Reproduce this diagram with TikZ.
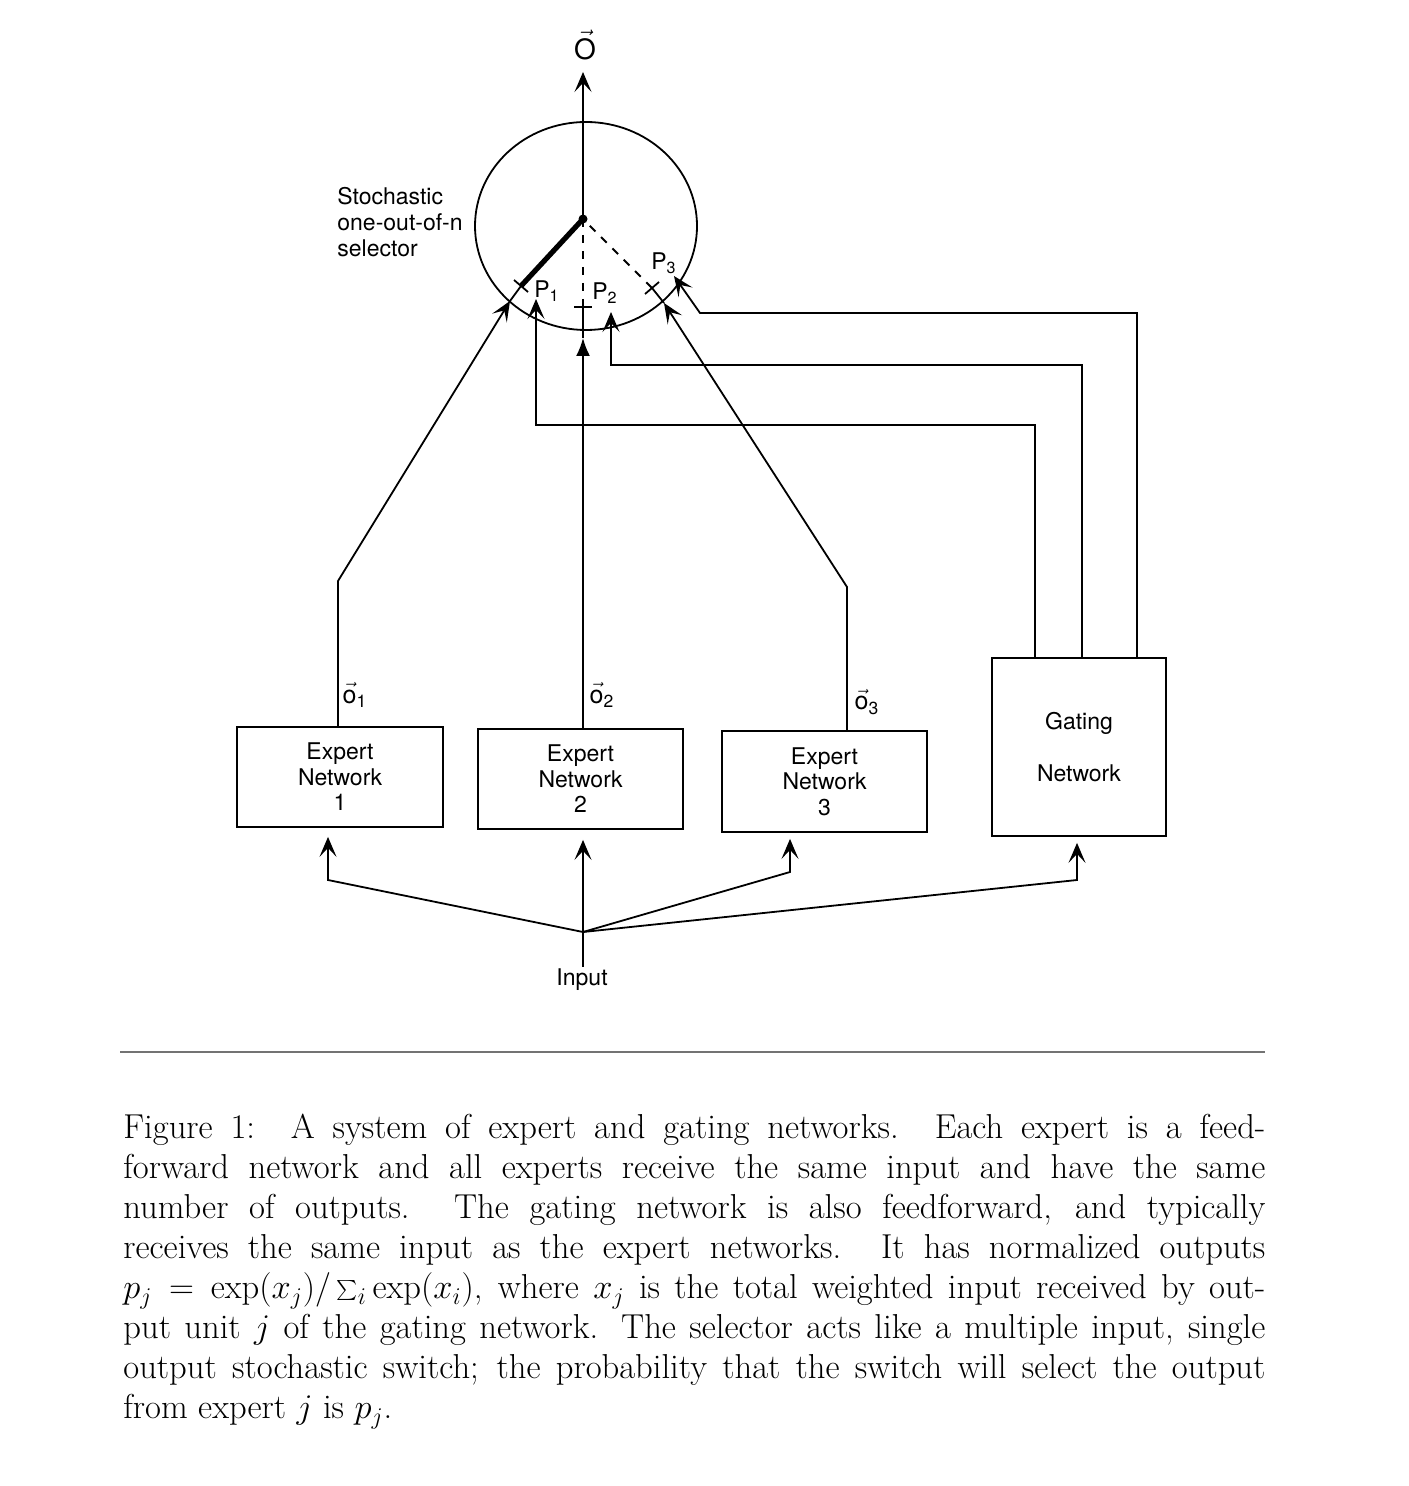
\documentclass[tikz,border=0pt]{standalone}
\usepackage{fontspec}
\setsansfont{TeX Gyre Heros}
\usetikzlibrary{arrows.meta}
\begin{document}
\begin{tikzpicture}[x=0.5pt,y=-0.5pt,
  lbl/.style={font=\sffamily\fontsize{11.5}{13}\selectfont, inner sep=1pt},
  box/.style={draw, line width=0.9pt, inner sep=0pt, align=center, font=\sffamily\fontsize{11.5}{12.8}\selectfont},
  wire/.style={line width=0.9pt},
  arr/.style={-{Stealth[length=10pt,width=8.5pt,inset=4.5pt]}},
  farr/.style={-{Latex[length=9pt,width=7pt]}},
  thick switch/.style={line width=2.6pt},
  dsh/.style={line width=1pt, dash pattern=on 4pt off 4pt}
]
\useasboundingbox (0,0) rectangle (1408,1486);

% selector circle
\draw[wire] (586,226) ellipse [x radius=111, y radius=104];
\coordinate (hub) at (583,219);
\fill (hub) circle [radius=4.5];
\node[lbl, font=\sffamily\fontsize{14}{15}\selectfont] (olbl) at (585,45) {$\vec{\mathsf{O}}$};
\coordinate (otip) at (583,72);
\draw[wire,arr] (hub) -- (otip);

\node[lbl, anchor=north west, align=left] (sel) at (335,185) {Stochastic\\one-out-of-n\\selector};

% boxes
\node[box, minimum width=103pt, minimum height=50pt] (e1) at (340,777) {Expert\\Network\\1};
\node[box, minimum width=102.5pt, minimum height=50pt] (e2) at (580.5,779) {Expert\\Network\\2};
\node[box, minimum width=102.5pt, minimum height=50.5pt] (e3) at (824.5,781.5) {Expert\\Network\\3};
\node[box, minimum width=87pt, minimum height=89pt] (g) at (1079,747) {Gating\\[13.5pt]Network};

% output labels
\node[lbl, font=\sffamily\fontsize{12.5}{13}\selectfont] (o1) at (355,695) {$\vec{\mathsf{o}}_{\mathsf{1}}$};
\node[lbl, font=\sffamily\fontsize{12.5}{13}\selectfont] (o2) at (602,695) {$\vec{\mathsf{o}}_{\mathsf{2}}$};
\node[lbl, font=\sffamily\fontsize{12.5}{13}\selectfont] (o3) at (867,702) {$\vec{\mathsf{o}}_{\mathsf{3}}$};

% P labels
\node[lbl] (lp1) at (547,291) {P$_{\mathsf{1}}$};
\node[lbl] (lp2) at (605,293) {P$_{\mathsf{2}}$};
\node[lbl] (lp3) at (664,263) {P$_{\mathsf{3}}$};

% expert 1 path
\coordinate (b1) at (338,581);
\coordinate (c1) at (510,301);
\coordinate (t1) at (521,286);
\draw[wire,arr] (e1.north -| b1) -- (b1) -- (c1);
\draw[wire] (c1) -- (t1);
\draw[thick switch] (t1) -- (hub);
\draw[wire] (t1) +(-7,-6) -- +(7,6);

% expert 2 path
\coordinate (c2) at (583,307);
\coordinate (a2) at (583,338);
\draw[wire,farr] (e2.north -| c2) -- (a2);
\draw[wire] (a2) -- (c2);
\draw[wire] (c2) +(-9,0) -- +(9,0);
\draw[dsh] (hub) -- (c2);

% expert 3 path
\coordinate (b3) at (847,587);
\coordinate (c3) at (664,303);
\coordinate (t3) at (652,288);
\draw[wire,arr] (e3.north -| b3) -- (b3) -- (c3);
\draw[wire] (c3) -- (t3);
\draw[dsh] (t3) -- (hub);
\draw[wire] (t3) +(-7,6) -- +(7,-6);

% gating feedback lines
\coordinate (h1) at (1035,425);
\coordinate (k1) at (536,425);
\coordinate (p1) at (536,299);
\draw[wire,arr] (g.north -| h1) -- (h1) -- (k1) -- (p1);
\coordinate (h2) at (1082,365);
\coordinate (k2) at (611,365);
\coordinate (p2) at (611,312);
\draw[wire,arr] (g.north -| h2) -- (h2) -- (k2) -- (p2);
\coordinate (h3) at (1137,313);
\coordinate (k3) at (700,313);
\coordinate (p3) at (674,276);
\draw[wire,arr] (g.north -| h3) -- (h3) -- (k3) -- (p3);

% input fan
\node[lbl] (inp) at (582,980) {Input};
\coordinate (ih) at (583,932);
\draw[wire] (inp.north -| ih) -- (ih);
\coordinate (f1) at (328,880);
\coordinate (f3) at (790,872);
\coordinate (f4) at (1077,880);
\draw[wire,arr,shorten >=4.5pt] (ih) -- (f1) -- (e1.south -| f1);
\draw[wire,arr,shorten >=5pt] (ih) -- (e2.south -| ih);
\draw[wire,arr,shorten >=3pt] (ih) -- (f3) -- (e3.south -| f3);
\draw[wire,arr,shorten >=3pt] (ih) -- (f4) -- (g.south -| f4);

% rule
\draw[black!55, line width=0.7pt] (120,1052) -- (1265,1052);

% caption
\node[anchor=north west, text width=571pt, align=justify, inner sep=0pt,
      font=\fontsize{17.3}{20}\selectfont] (cap) at (123,1114) {%
Figure 1:\ \ A system of expert and gating networks.  Each expert is a feed-\linebreak
forward network and all experts receive the same input and have the same\linebreak
number of outputs.  The gating network is also feedforward, and typically\linebreak
receives the same input as the expert networks.  It has normalized outputs\linebreak
$p_j = \exp(x_j)/\sum_i \exp(x_i)$, where $x_j$ is the total weighted input received by out-\linebreak
put unit $j$ of the gating network. The selector acts like a multiple input, single\linebreak
output stochastic switch; the probability that the switch will select the output\linebreak
from expert $j$ is $p_j$.};
\end{tikzpicture}
\end{document}
